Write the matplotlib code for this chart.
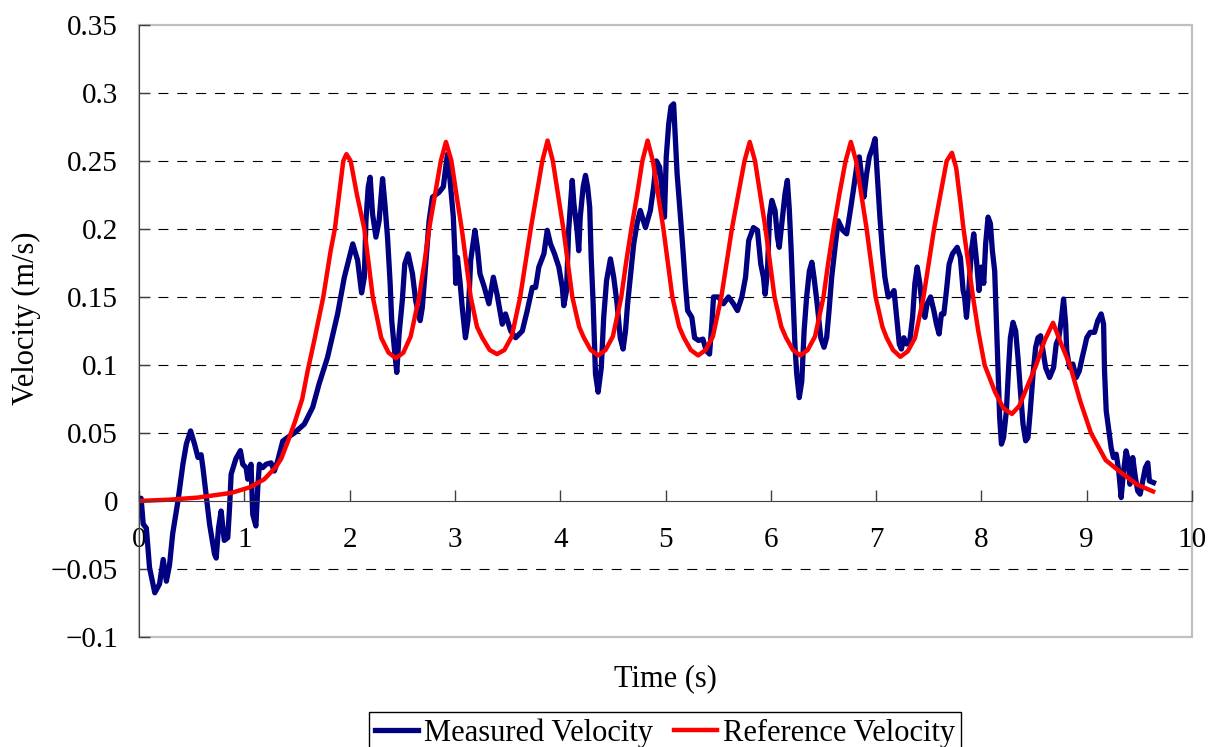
import matplotlib
matplotlib.use('Agg')
import matplotlib.pyplot as plt
from matplotlib.patches import Rectangle

# measured velocity, time in s, velocity in m/s
t_meas = [0.00, 0.02, 0.04, 0.07, 0.10, 0.15, 0.195, 0.23, 0.26, 0.29, 0.32, 0.37, 0.417, 0.45, 0.49,
          0.527, 0.56, 0.59, 0.607, 0.64, 0.67, 0.717, 0.733, 0.755, 0.78, 0.81, 0.843, 0.86, 0.875, 0.92,
          0.963, 0.985, 1.017, 1.033, 1.064, 1.08, 1.11, 1.128, 1.143, 1.175, 1.207, 1.254, 1.285, 1.317,
          1.365, 1.41, 1.475, 1.57, 1.65, 1.71, 1.79, 1.886, 1.95, 2.03, 2.076, 2.114, 2.14, 2.155, 2.177,
          2.195, 2.218, 2.25, 2.28, 2.313, 2.335, 2.36, 2.385, 2.40, 2.43, 2.448, 2.47, 2.50, 2.524, 2.556,
          2.597, 2.628, 2.67, 2.69, 2.723, 2.755, 2.787, 2.85, 2.89, 2.913, 2.93, 2.954, 2.985, 3.00, 3.008,
          3.024, 3.05, 3.07, 3.10, 3.124, 3.15, 3.19, 3.213, 3.238, 3.276, 3.323, 3.365, 3.40, 3.45, 3.48,
          3.53, 3.576, 3.64, 3.687, 3.735, 3.766, 3.797, 3.845, 3.877, 3.908, 3.946, 3.987, 4.02, 4.034,
          4.06, 4.08, 4.10, 4.114, 4.13, 4.16, 4.176, 4.19, 4.218, 4.24, 4.26, 4.28, 4.294, 4.313, 4.335,
          4.36, 4.39, 4.413, 4.44, 4.477, 4.508, 4.54, 4.57, 4.597, 4.62, 4.64, 4.666, 4.698, 4.73, 4.76,
          4.81, 4.856, 4.887, 4.913, 4.944, 4.967, 4.99, 5.007, 5.03, 5.052, 5.077, 5.093, 5.11, 5.14,
          5.166, 5.188, 5.21, 5.25, 5.276, 5.314, 5.355, 5.387, 5.418, 5.44, 5.456, 5.503, 5.55, 5.598,
          5.645, 5.683, 5.725, 5.76, 5.79, 5.835, 5.873, 5.905, 5.93, 5.946, 5.968, 5.987, 6.01, 6.04,
          6.063, 6.08, 6.104, 6.135, 6.157, 6.176, 6.192, 6.214, 6.23, 6.246, 6.27, 6.294, 6.316, 6.34,
          6.366, 6.39, 6.41, 6.44, 6.474, 6.505, 6.53, 6.553, 6.578, 6.61, 6.64, 6.683, 6.72, 6.75, 6.783,
          6.815, 6.84, 6.863, 6.884, 6.91, 6.935, 6.967, 6.99, 7.01, 7.036, 7.06, 7.083, 7.115, 7.147,
          7.17, 7.195, 7.22, 7.24, 7.263, 7.29, 7.32, 7.346, 7.368, 7.39, 7.415, 7.44, 7.463, 7.484, 7.517,
          7.548, 7.573, 7.598, 7.62, 7.643, 7.668, 7.693, 7.725, 7.77, 7.80, 7.826, 7.84, 7.858, 7.88,
          7.905, 7.927, 7.953, 7.977, 8.00, 8.022, 8.04, 8.063, 8.085, 8.104, 8.126, 8.142, 8.157, 8.173,
          8.19, 8.21, 8.237, 8.26, 8.275, 8.30, 8.325, 8.347, 8.37, 8.395, 8.42, 8.442, 8.464, 8.49, 8.515,
          8.537, 8.562, 8.584, 8.61, 8.647, 8.685, 8.71, 8.735, 8.758, 8.78, 8.80, 8.81, 8.837, 8.868,
          8.90, 8.93, 8.957, 8.98, 9.00, 9.033, 9.074, 9.105, 9.137, 9.16, 9.169, 9.185, 9.21, 9.232,
          9.254, 9.28, 9.304, 9.327, 9.35, 9.374, 9.396, 9.41, 9.437, 9.462, 9.484, 9.507, 9.532, 9.557,
          9.58, 9.595, 9.634]
v_meas = [0.000, 0.002, -0.017, -0.020, -0.049, -0.0675, -0.061, -0.043, -0.059, -0.047, -0.024, 0.000,
          0.027, 0.042, 0.0515, 0.042, 0.032, 0.034, 0.0245, 0.0025, -0.017, -0.039, -0.042, -0.020,
          -0.0074, -0.029, -0.027, -0.005, 0.0197, 0.031, 0.037, 0.027, 0.0245, 0.016, 0.027, -0.0098,
          -0.0184, 0.0098, 0.027, 0.0245, 0.027, 0.028, 0.022, 0.0295, 0.044, 0.0466, 0.050, 0.0565,
          0.069, 0.086, 0.1055, 0.1375, 0.1645, 0.189, 0.177, 0.153, 0.1645, 0.206, 0.231, 0.238, 0.211,
          0.194, 0.206, 0.237, 0.2185, 0.194, 0.160, 0.1326, 0.108, 0.0945, 0.1228, 0.147, 0.1743, 0.1817,
          0.167, 0.147, 0.1326, 0.142, 0.174, 0.206, 0.2234, 0.227, 0.231, 0.2455, 0.255, 0.2357, 0.2087,
          0.1817, 0.160, 0.179, 0.160, 0.142, 0.120, 0.1326, 0.177, 0.199, 0.1865, 0.167, 0.158, 0.145,
          0.1645, 0.152, 0.130, 0.1375, 0.125, 0.120, 0.125, 0.140, 0.157, 0.157, 0.172, 0.1817, 0.199,
          0.189, 0.1817, 0.172, 0.157, 0.1436, 0.1547, 0.199, 0.221, 0.2357, 0.2185, 0.199, 0.184, 0.2087,
          0.231, 0.2394, 0.231, 0.216, 0.179, 0.145, 0.0933, 0.080, 0.098, 0.135, 0.162, 0.178, 0.1645,
          0.145, 0.120, 0.1117, 0.125, 0.145, 0.1645, 0.189, 0.204, 0.2136, 0.201, 0.2136, 0.231, 0.250,
          0.2455, 0.228, 0.2087, 0.253, 0.277, 0.290, 0.292, 0.2676, 0.2406, 0.211, 0.184, 0.160, 0.140,
          0.135, 0.120, 0.118, 0.119, 0.1105, 0.108, 0.130, 0.150, 0.150, 0.145, 0.150, 0.145, 0.140,
          0.150, 0.1645, 0.1915, 0.201, 0.199, 0.174, 0.1645, 0.152, 0.169, 0.2087, 0.221, 0.2136, 0.194,
          0.1865, 0.204, 0.226, 0.2357, 0.2136, 0.1865, 0.145, 0.113, 0.0933, 0.076, 0.088, 0.125, 0.150,
          0.169, 0.1755, 0.1645, 0.145, 0.120, 0.113, 0.120, 0.140, 0.1645, 0.1865, 0.206, 0.199, 0.1964,
          0.211, 0.228, 0.2455, 0.253, 0.238, 0.2234, 0.2406, 0.253, 0.260, 0.2664, 0.2406, 0.2087, 0.184,
          0.1645, 0.150, 0.152, 0.1547, 0.135, 0.1154, 0.1117, 0.120, 0.1154, 0.118, 0.135, 0.160, 0.172,
          0.160, 0.140, 0.135, 0.145, 0.150, 0.140, 0.130, 0.1228, 0.1375, 0.1375, 0.1547, 0.174, 0.1817,
          0.1865, 0.179, 0.1547, 0.150, 0.135, 0.1547, 0.184, 0.1964, 0.177, 0.1547, 0.172, 0.160, 0.189,
          0.2087, 0.204, 0.184, 0.169, 0.1326, 0.098, 0.0614, 0.0418, 0.0466, 0.0663, 0.1007, 0.120,
          0.1313, 0.125, 0.1055, 0.081, 0.0565, 0.0442, 0.0466, 0.0663, 0.0933, 0.113, 0.120, 0.1215,
          0.1105, 0.098, 0.0908, 0.098, 0.1154, 0.120, 0.1326, 0.1485, 0.130, 0.1105, 0.098, 0.1007,
          0.0908, 0.0957, 0.1055, 0.113, 0.120, 0.124, 0.124, 0.1326, 0.1375, 0.130, 0.0957, 0.0663,
          0.0515, 0.039, 0.0319, 0.0344, 0.022, 0.0025, 0.022, 0.0368, 0.0295, 0.0123, 0.0319, 0.0172,
          0.0074, 0.005, 0.0147, 0.0245, 0.028, 0.0147, 0.0135]

# reference velocity
t_ref = [0.00, 0.30, 0.56, 0.88, 1.05, 1.19, 1.30, 1.35, 1.42, 1.48, 1.55, 1.60, 1.67, 1.75, 1.82, 1.86,
         1.90, 1.94, 1.97, 2.01, 2.07, 2.14, 2.22, 2.30, 2.37, 2.44, 2.51, 2.58, 2.66, 2.71, 2.755, 2.81,
         2.866, 2.915, 2.967, 3.015, 3.065, 3.15, 3.21, 3.26, 3.33, 3.40, 3.47, 3.54, 3.62, 3.67, 3.72,
         3.775, 3.83, 3.88, 3.93, 3.98, 4.03, 4.115, 4.18, 4.225, 4.29, 4.36, 4.43, 4.50, 4.58, 4.625,
         4.675, 4.73, 4.78, 4.83, 4.88, 4.93, 4.98, 5.065, 5.13, 5.175, 5.24, 5.31, 5.38, 5.45, 5.53,
         5.58, 5.63, 5.69, 5.75, 5.80, 5.85, 5.90, 5.95, 6.035, 6.10, 6.145, 6.21, 6.28, 6.35, 6.42,
         6.50, 6.545, 6.595, 6.65, 6.71, 6.76, 6.81, 6.86, 6.91, 6.995, 7.06, 7.10, 7.16, 7.23, 7.30,
         7.37, 7.45, 7.50, 7.55, 7.61, 7.67, 7.72, 7.76, 7.80, 7.83, 7.92, 7.97, 8.03, 8.13, 8.21, 8.29,
         8.36, 8.44, 8.52, 8.60, 8.68, 8.76, 8.84, 8.94, 9.04, 9.18, 9.34, 9.48, 9.63]
v_ref = [0.000, 0.001, 0.0025, 0.006, 0.010, 0.016, 0.025, 0.031, 0.045, 0.058, 0.075, 0.095, 0.120,
         0.150, 0.184, 0.200, 0.225, 0.250, 0.255, 0.250, 0.225, 0.200, 0.150, 0.120, 0.109, 0.105, 0.109,
         0.121, 0.150, 0.175, 0.200, 0.225, 0.250, 0.264, 0.250, 0.225, 0.200, 0.150, 0.128, 0.120, 0.111,
         0.108, 0.111, 0.121, 0.150, 0.175, 0.200, 0.225, 0.250, 0.265, 0.250, 0.225, 0.200, 0.150, 0.128,
         0.120, 0.111, 0.107, 0.111, 0.121, 0.150, 0.175, 0.200, 0.225, 0.250, 0.265, 0.250, 0.225, 0.200,
         0.150, 0.128, 0.120, 0.111, 0.107, 0.111, 0.121, 0.150, 0.175, 0.200, 0.225, 0.250, 0.264, 0.250,
         0.225, 0.200, 0.150, 0.128, 0.120, 0.111, 0.107, 0.111, 0.121, 0.150, 0.175, 0.200, 0.225, 0.250,
         0.264, 0.250, 0.225, 0.200, 0.150, 0.128, 0.120, 0.111, 0.106, 0.110, 0.120, 0.150, 0.175, 0.200,
         0.225, 0.250, 0.256, 0.245, 0.220, 0.200, 0.150, 0.125, 0.100, 0.080, 0.068, 0.064, 0.070, 0.085,
         0.100, 0.118, 0.131, 0.115, 0.100, 0.073, 0.050, 0.030, 0.020, 0.012, 0.007]

x_ticks = [0, 1, 2, 3, 4, 5, 6, 7, 8, 9, 10]
y_ticks = [-0.1, -0.05, 0, 0.05, 0.1, 0.15, 0.2, 0.25, 0.3, 0.35]
y_labels = ['\u22120.1', '\u22120.05', '0', '0.05', '0.1', '0.15', '0.2', '0.25', '0.3', '0.35']
grid_y = [-0.05, 0.05, 0.1, 0.15, 0.2, 0.25, 0.3]

plt.rcParams['font.family'] = ['Liberation Serif', 'DejaVu Serif']
plt.rcParams['font.size'] = 21

fig = plt.figure(figsize=(12.15, 7.47), dpi=100)
ax = fig.add_axes([0.1144, 0.1473, 0.8667, 0.8193])

ax.plot(t_meas, v_meas, color='#000080', lw=3.8, solid_joinstyle='round', label='Measured Velocity')
ax.plot(t_ref, v_ref, color='#ff0000', lw=3.2, solid_joinstyle='round', label='Reference Velocity')

# dashed grid, not on the frame or the zero line
for g in grid_y:
    ax.axhline(g, color='black', lw=0.8, ls=(0, (9, 8)), zorder=0)

ax.set_xlim(0, 10)
ax.set_ylim(-0.1, 0.35)
ax.set_xticks(x_ticks)
ax.set_xticklabels([str(x) for x in x_ticks])
ax.set_yticks(y_ticks)
ax.set_yticklabels(y_labels)

# x axis sits on v = 0, grey box around the plot area
ax.spines['bottom'].set_position(('data', 0))
ax.spines['bottom'].set_color('#404040')
ax.spines['left'].set_color('#404040')
ax.spines['top'].set_visible(False)
ax.spines['right'].set_visible(False)
ax.add_patch(Rectangle((0, 0), 1, 1, transform=ax.transAxes, fill=False,
                       ec='#c0c0c0', lw=1.6, clip_on=False, zorder=0))

ax.tick_params(axis='both', direction='in', length=8, width=1, color='#404040')
ax.tick_params(axis='x', pad=19)
ax.tick_params(axis='y', pad=15)

ax.set_xlabel('Time (s)', fontsize=22)
ax.xaxis.set_label_coords(0.5, -0.044)
ax.set_ylabel('Velocity (m/s)', fontsize=22)
ax.yaxis.set_label_coords(-0.093, 0.52)

leg = fig.legend(loc='upper center', bbox_to_anchor=(665 / 1215, 1 - 712 / 747), ncol=2,
                 fancybox=False, edgecolor='black', framealpha=1, fontsize=22,
                 handlelength=1.4, handletextpad=0.2, columnspacing=0.7, borderpad=0.2,
                 borderaxespad=0)
leg.get_frame().set_linewidth(1.0)

fig.savefig('out.png', dpi=100)
